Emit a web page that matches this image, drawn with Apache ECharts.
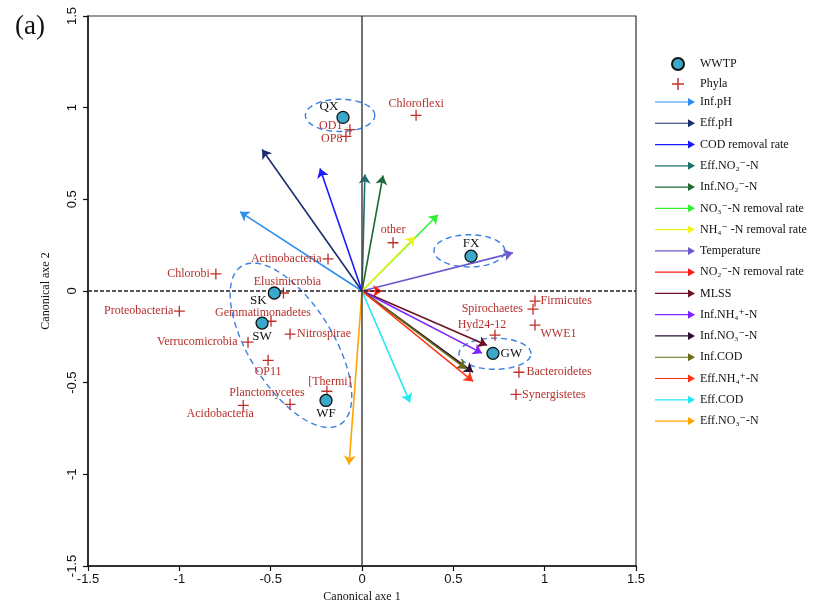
<!DOCTYPE html>
<html><head><meta charset="utf-8">
<script src="https://cdn.jsdelivr.net/npm/echarts@6/dist/echarts.min.js"></script>
<style>html,body{margin:0;padding:0;background:#fff}#c{width:839px;height:608px}</style>
</head><body><div id="c"></div>
<script>
// ---------- data ----------
const siteNames = ['QX', 'FX', 'SK', 'SW', 'WF', 'GW'];
const siteX = [-0.104, 0.597, -0.480, -0.547, -0.197, 0.717];
const siteY = [0.947, 0.190, -0.011, -0.175, -0.597, -0.340];

const phylaNames = ['Chloroflexi', 'OD1', 'OP8', 'other', 'Actinobacteria', 'Chlorobi', 'Elusimicrobia',
  'Proteobacteria', 'Gemmatimonadetes', 'Nitrospirae', 'Verrucomicrobia', 'OP11', '[Thermi]',
  'Planctomycetes', 'Acidobacteria', 'Spirochaetes', 'Firmicutes', 'Hyd24-12', 'WWE1',
  'Bacteroidetes', 'Synergistetes'];
const phylaX = [0.296, -0.066, -0.088, 0.170, -0.186, -0.800, -0.430, -1.000, -0.498, -0.394, -0.624,
  -0.514, -0.192, -0.394, -0.650, 0.936, 0.947, 0.728, 0.947, 0.859, 0.843];
const phylaY = [0.958, 0.880, 0.843, 0.263, 0.175, 0.093, -0.011, -0.110, -0.165, -0.235, -0.279,
  -0.378, -0.547, -0.618, -0.624, -0.099, -0.055, -0.241, -0.186, -0.443, -0.564];

const envNames = ['Inf.pH', 'Eff.pH', 'COD removal rate', 'Eff.NO\u2082\u207B-N', 'Inf.NO\u2082\u207B-N',
  'NO\u2083\u207B-N removal rate', 'NH\u2084\u207B -N removal rate', 'Temperature',
  'NO\u2082\u207B-N removal rate', 'MLSS', 'Inf.NH\u2084\u207A-N', 'Inf.NO\u2083\u207B-N', 'Inf.COD',
  'Eff.NH\u2084\u207A-N', 'Eff.COD', 'Eff.NO\u2083\u207B-N'];
const envX = [-0.668, -0.547, -0.230, 0.016, 0.115, 0.416, 0.290, 0.826, 0.110, 0.684, 0.657, 0.608,
  0.570, 0.608, 0.263, -0.071];
const envY = [0.432, 0.772, 0.668, 0.635, 0.630, 0.416, 0.296, 0.208, 0.000, -0.296, -0.339, -0.443,
  -0.425, -0.493, -0.608, -0.947];

// group ellipses (data units): centre, semi-axes, rotation (deg)
const ellCx = [-0.120, 0.588, 0.728, -0.389];
const ellCy = [0.958, 0.219, -0.342, -0.296];
const ellRx = [0.190, 0.194, 0.197, 0.509];
const ellRy = [0.088, 0.088, 0.085, 0.230];
const ellAng = [0, 0, 0, -58];

const xTicks = [-1.5, -1, -0.5, 0, 0.5, 1, 1.5];
const yTicks = [-1.5, -1, -0.5, 0, 0.5, 1, 1.5];

// ---------- styles ----------
const envColors = ['#2e8ef0', '#1b2d6e', '#1a1aff', '#1c6f6b', '#1f6b38', '#33ee33', '#f2f21e', '#6a5acd',
  '#ff1a1a', '#6b1427', '#8022ff', '#2a0f30', '#6b6b12', '#ff3412', '#22e6f0', '#ffa500'];
// label placement: [position, distance, offsetX, offsetY]
const phylaLabelPlace = {
  'Chloroflexi': ['top', 2, 0, 2], 'OD1': ['left', 2, 0, -4], 'OP8': ['left', 1, 3, 2],
  'other': ['top', 1, 0, 0], 'Actinobacteria': ['left', 1, 0, 0], 'Chlorobi': ['left', 0.5, 0, 0],
  'Elusimicrobia': ['top', 0, 4, 0], 'Proteobacteria': ['left', 0.5, 0, 0],
  'Gemmatimonadetes': ['top', 0, -8, 3], 'Nitrospirae': ['right', 1.5, 0, 0],
  'Verrucomicrobia': ['left', 5, 0, 0], 'OP11': ['bottom', 0, 0, 0], '[Thermi]': ['top', 0, 3, 2],
  'Planctomycetes': ['top', 0, -23, 0], 'Acidobacteria': ['bottom', 0, -23, -3],
  'Spirochaetes': ['left', 4.5, 0, 0], 'Firmicutes': ['right', 0, 0, 0], 'Hyd24-12': ['top', 0, -13, 1],
  'WWE1': ['right', 0, 0, 9], 'Bacteroidetes': ['right', 2, 0, 0], 'Synergistetes': ['right', 0.5, 0, 0]
};
const siteLabelPlace = {
  'QX': ['top', 0, -14, 2], 'FX': ['top', 0, 0, 1], 'SK': ['left', 5, 4, 8], 'SW': ['bottom', 0, 0, 0],
  'WF': ['bottom', 0, 0, 0], 'GW': ['right', 1, 0, 0]
};

const SERIF = '"Liberation Serif", "Times New Roman", "DejaVu Serif", serif';
const NARROW = '"Liberation Sans Narrow", "Liberation Sans", Arial, sans-serif';
const PLUS = 'path://M8.8,0 H11.2 V8.8 H20 V11.2 H11.2 V20 H8.8 V11.2 H0 V8.8 H8.8 Z';
const ARROW_ICON = 'path://M0,3.4 L33,3.4 L33,0 L40,4 L33,8 L33,4.6 L0,4.6 Z';

const chart = echarts.init(document.getElementById('c'), null, {renderer: 'canvas'});

function lbl(place) {
  return {show: true, formatter: '{b}', position: place[0], distance: place[1], offset: [place[2], place[3]]};
}

const phylaData = phylaNames.map((n, i) => ({
  name: n, value: [phylaX[i], phylaY[i]],
  label: lbl(phylaLabelPlace[n])
}));
const siteData = siteNames.map((n, i) => ({
  name: n, value: [siteX[i], siteY[i]],
  label: lbl(siteLabelPlace[n])
}));

const envSeries = envNames.map((n, i) => ({
  type: 'lines', name: n, coordinateSystem: 'cartesian2d', z: 3,
  symbol: ['none', 'arrow'], symbolSize: 9, silent: true,
  lineStyle: {color: envColors[i], width: 1.6, opacity: 1},
  itemStyle: {color: envColors[i]},
  data: [{coords: [[0, 0], [envX[i], envY[i]]]}]
}));

const option = {
  backgroundColor: '#fff',
  animation: false,
  title: {text: '(a)', left: 10, top: 8, textStyle: {fontFamily: SERIF, fontSize: 27, fontWeight: 'normal', color: '#111'}},
  grid: {left: 88, right: 203, top: 16, bottom: 42, show: true, borderColor: '#333', borderWidth: 1.2},
  xAxis: {
    type: 'value', min: xTicks[0], max: xTicks[xTicks.length - 1], interval: 0.5,
    name: 'Canonical axe 1', nameLocation: 'middle', nameGap: 24,
    nameTextStyle: {fontFamily: SERIF, fontSize: 12, color: '#111'},
    axisLine: {show: true, onZero: false, lineStyle: {color: '#111', width: 1.5}},
    axisTick: {show: true, length: 5, lineStyle: {color: '#111', width: 1.2}},
    axisLabel: {fontFamily: NARROW, fontSize: 13, color: '#111', margin: 7},
    splitLine: {show: false}
  },
  yAxis: {
    type: 'value', min: yTicks[0], max: yTicks[yTicks.length - 1], interval: 0.5,
    name: 'Canonical axe 2', nameLocation: 'middle', nameGap: 36,
    nameTextStyle: {fontFamily: SERIF, fontSize: 12, color: '#111'},
    axisLine: {show: true, onZero: false, lineStyle: {color: '#111', width: 1.5}},
    axisTick: {show: true, length: 5, lineStyle: {color: '#111', width: 1.2}},
    axisLabel: {fontFamily: NARROW, fontSize: 13, color: '#111', rotate: 90, margin: 9},
    splitLine: {show: false}
  },
  legend: [
    {
      orient: 'vertical', left: 666, top: 52, itemWidth: 34, itemHeight: 12, itemGap: 7,
      selectedMode: false,
      textStyle: {fontFamily: SERIF, fontSize: 12, color: '#111'},
      data: [
        {name: 'WWTP', icon: 'circle'},
        {name: 'Phyla', icon: PLUS, itemStyle: {color: '#c0302a', borderWidth: 0}}
      ]
    },
    {
      orient: 'vertical', left: 650, top: 91, itemWidth: 40, itemHeight: 8, itemGap: 9.27,
      selectedMode: false,
      textStyle: {fontFamily: SERIF, fontSize: 12, color: '#111'},
      data: envNames.map((n, i) => ({name: n, icon: ARROW_ICON, itemStyle: {color: envColors[i], borderWidth: 0}}))
    }
  ],
  series: [
    {
      type: 'custom', name: 'groups', coordinateSystem: 'cartesian2d', silent: true, z: 1,
      encode: {x: 0, y: 1},
      data: ellCx.map((c, i) => [c, ellCy[i], ellRx[i], ellRy[i], ellAng[i]]),
      renderItem: function (params, api) {
        const cx = api.value(0), cy = api.value(1), rx = api.value(2), ry = api.value(3);
        const a = api.value(4) * Math.PI / 180;
        const pts = [];
        for (let k = 0; k <= 90; k++) {
          const t = k / 90 * 2 * Math.PI;
          const dx = rx * Math.cos(t), dy = ry * Math.sin(t);
          pts.push(api.coord([cx + dx * Math.cos(a) - dy * Math.sin(a), cy + dx * Math.sin(a) + dy * Math.cos(a)]));
        }
        return {type: 'polyline', shape: {points: pts},
          style: {stroke: '#3a7fe2', lineWidth: 1.4, lineDash: [6, 4], fill: null}};
      }
    },
    {
      type: 'scatter', name: 'zero', silent: true, symbolSize: 0, data: [], z: 2,
      markLine: {
        silent: true, symbol: ['none', 'none'], label: {show: false}, animation: false,
        data: [
          {xAxis: 0, lineStyle: {type: 'solid', color: '#444', width: 1.5}},
          {yAxis: 0, lineStyle: {type: [4, 2], color: '#222', width: 1.5}}
        ]
      }
    },
    ...envSeries,
    {
      type: 'scatter', name: 'Phyla', symbol: PLUS, symbolSize: 11, z: 4,
      itemStyle: {color: '#c0302a', opacity: 1},
      label: {fontFamily: SERIF, fontSize: 12, color: '#b5302c'},
      data: phylaData
    },
    {
      type: 'scatter', name: 'WWTP', symbol: 'circle', symbolSize: 12, z: 5,
      itemStyle: {color: '#3aa9c9', borderColor: '#111', borderWidth: 1.3, opacity: 1},
      label: {fontFamily: SERIF, fontSize: 13, color: '#111'},
      data: siteData
    }
  ]
};
chart.setOption(option);
</script>
</body></html>
